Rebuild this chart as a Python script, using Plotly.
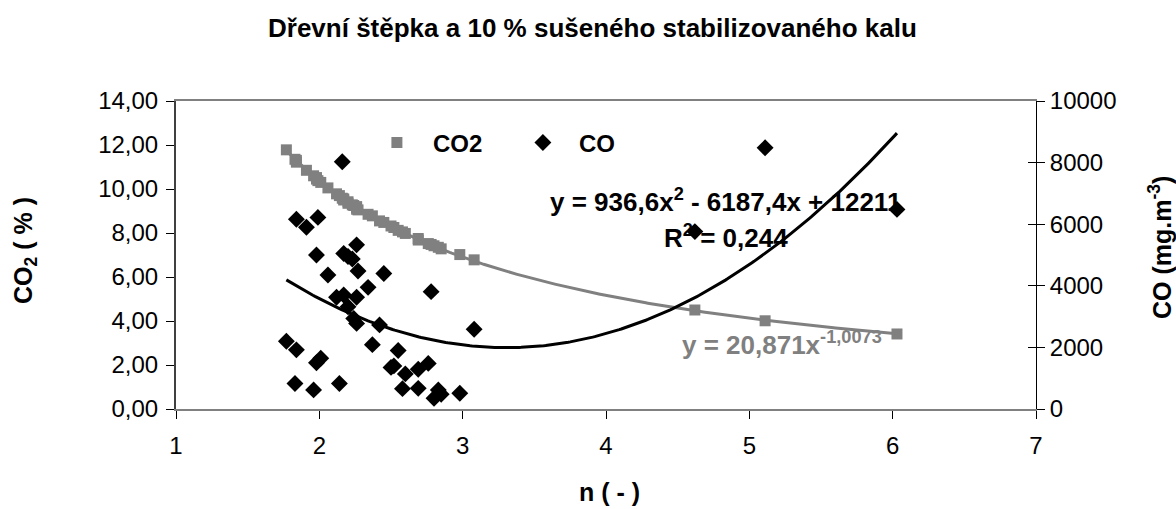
import numpy as np
import plotly.graph_objects as go

TITLE = "Dřevní štěpka a 10 % sušeného stabilizovaného kalu"

# n ( - ) values shared by both series
n_values = [1.77, 1.83, 1.84, 1.84, 1.91, 1.96, 1.98, 1.98, 1.99, 2.01,
            2.06, 2.12, 2.14, 2.16, 2.17, 2.17, 2.20, 2.20, 2.23, 2.24,
            2.26, 2.26, 2.26, 2.27, 2.34, 2.37, 2.42, 2.45, 2.50, 2.52,
            2.55, 2.58, 2.60, 2.69, 2.69, 2.76, 2.78, 2.80, 2.83, 2.85,
            2.98, 3.08, 4.62, 5.11, 6.03]

co2_values = [11.78, 11.35, 11.30, 11.22, 10.85, 10.60, 10.45, 10.52, 10.38, 10.30,
              10.05, 9.78, 9.70, 9.58, 9.55, 9.50, 9.42, 9.35, 9.28, 9.25,
              9.20, 9.15, 9.08, 9.05, 8.85, 8.78, 8.55, 8.48, 8.32, 8.25,
              8.12, 8.05, 7.98, 7.75, 7.68, 7.52, 7.48, 7.42, 7.35, 7.28,
              7.02, 6.78, 4.50, 4.01, 3.41]

co_values = [2200, 830, 1920, 6160, 5900, 620, 1500, 5000, 6220, 1650,
             4350, 3630, 830, 8030, 3700, 5050, 4950, 3320, 4870, 2940,
             2780, 3630, 5330, 4480, 3950, 2090, 2730, 4400, 1350, 1400,
             1900, 660, 1140, 1290, 670, 1480, 3810, 350, 620, 480,
             510, 2590, 5760, 8480, 6480]

# trend line coefficients as printed on the chart
co_poly_coeffs = [936.6, -6187.4, 12211]      # y = a x^2 + b x + c
co2_power_coeffs = [20.871, -1.0073]          # y = a x^b

x_ticks = [1, 2, 3, 4, 5, 6, 7]
co2_ticks = [0, 2, 4, 6, 8, 10, 12, 14]
co2_tick_labels = ["0,00", "2,00", "4,00", "6,00", "8,00", "10,00", "12,00", "14,00"]
co_ticks = [0, 2000, 4000, 6000, 8000, 10000]
co_tick_labels = ["0", "2000", "4000", "6000", "8000", "10000"]

FONT = "Liberation Sans, Arial, sans-serif"
GRAY = "#808080"

xs = np.linspace(min(n_values), max(n_values), 300)
co_trend = np.polyval(co_poly_coeffs, xs)
co2_trend = co2_power_coeffs[0] * xs ** co2_power_coeffs[1]

fig = go.Figure()

fig.add_trace(go.Scatter(x=xs, y=co2_trend, mode="lines",
                         line=dict(color=GRAY, width=3), showlegend=False,
                         hoverinfo="skip", yaxis="y"))
fig.add_trace(go.Scatter(x=n_values, y=co2_values, mode="markers", name="CO2",
                         marker=dict(symbol="square", size=11, color=GRAY),
                         yaxis="y"))
fig.add_trace(go.Scatter(x=n_values, y=co_values, mode="markers", name="CO",
                         marker=dict(symbol="diamond", size=13, color="black"),
                         yaxis="y2"))
fig.add_trace(go.Scatter(x=xs, y=co_trend, mode="lines",
                         line=dict(color="black", width=3), showlegend=False,
                         hoverinfo="skip", yaxis="y2"))
fig.add_trace(go.Scatter(x=[None], y=[None], mode="markers", showlegend=False,
                         hoverinfo="skip", yaxis="y3"))

fig.update_layout(
    width=1176, height=509,
    margin=dict(l=176, r=140, t=101, b=100),
    paper_bgcolor="white", plot_bgcolor="white",
    font=dict(family=FONT, size=24, color="black"),
    showlegend=True,
    legend=dict(orientation="h", x=0.215, y=0.864, xanchor="left", yanchor="middle",
                font=dict(family=FONT, size=24, color="black", weight="bold"),
                bgcolor="rgba(0,0,0,0)", itemwidth=62,
                entrywidth=69, entrywidthmode="pixels"),
    xaxis=dict(range=[1, 7], tickvals=x_ticks, ticks="outside", ticklen=8,
               tickcolor="black", showline=True, linecolor=GRAY, linewidth=2,
               mirror=True, showgrid=False, zeroline=False,
               tickfont=dict(size=24), ticklabelstandoff=6),
    yaxis=dict(range=[0, 14], tickvals=co2_ticks, ticktext=co2_tick_labels,
               ticks="outside", ticklen=8, tickcolor="black", showline=True,
               linecolor="#404040", linewidth=2, showgrid=False, zeroline=False,
               tickfont=dict(size=24), ticklabelstandoff=3),
    yaxis2=dict(range=[0, 10000], tickvals=co_ticks, ticktext=co_tick_labels,
                overlaying="y", side="right", anchor="x", ticks="outside",
                ticklen=8, tickcolor="black", showline=True, linecolor="black",
                linewidth=1, showgrid=False, zeroline=False,
                tickfont=dict(size=24), ticklabelstandoff=0),
    yaxis3=dict(range=[0, 10000], tickvals=co_ticks, overlaying="y", side="right",
                anchor="x", ticks="inside", ticklen=8, tickcolor="black",
                showticklabels=False, showline=False, showgrid=False, zeroline=False),
)

annotations = [
    dict(text="<b>" + TITLE + "</b>", xref="paper", yref="paper",
         x=(592 - 176) / 860, y=(409 - 28) / 308, showarrow=False,
         font=dict(size=26), xanchor="center", yanchor="middle"),
    dict(text="<b>n ( - )</b>", xref="paper", yref="paper",
         x=(609 - 176) / 860, y=(409 - 492) / 308, showarrow=False,
         font=dict(size=25), xanchor="center", yanchor="middle"),
    dict(text="<b>CO<sub>2</sub> ( % )</b>", xref="paper", yref="paper",
         x=(25 - 176) / 860, y=(409 - 251) / 308, showarrow=False, textangle=-90,
         font=dict(size=25), xanchor="center", yanchor="middle"),
    dict(text="<b>CO (mg.m<sup>-3</sup>)</b>", xref="paper", yref="paper",
         x=(1160 - 176) / 860, y=(409 - 248) / 308, showarrow=False, textangle=-90,
         font=dict(size=25), xanchor="center", yanchor="middle"),
    dict(text="<b>y = 936,6x<sup>2</sup> - 6187,4x + 12211</b>", xref="paper", yref="paper",
         x=(725 - 176) / 860, y=(409 - 200) / 308, showarrow=False,
         font=dict(size=26), xanchor="center", yanchor="middle"),
    dict(text="<b>R<sup>2</sup> = 0,244</b>", xref="paper", yref="paper",
         x=(726 - 176) / 860, y=(409 - 236) / 308, showarrow=False,
         font=dict(size=26), xanchor="center", yanchor="middle"),
    dict(text="<b>y = 20,871x<sup>-1,0073</sup></b>", xref="paper", yref="paper",
         x=(782 - 176) / 860, y=(409 - 343) / 308, showarrow=False,
         font=dict(size=26, color=GRAY), xanchor="center", yanchor="middle"),
]
fig.update_layout(annotations=annotations)

fig.write_html("out.html")
